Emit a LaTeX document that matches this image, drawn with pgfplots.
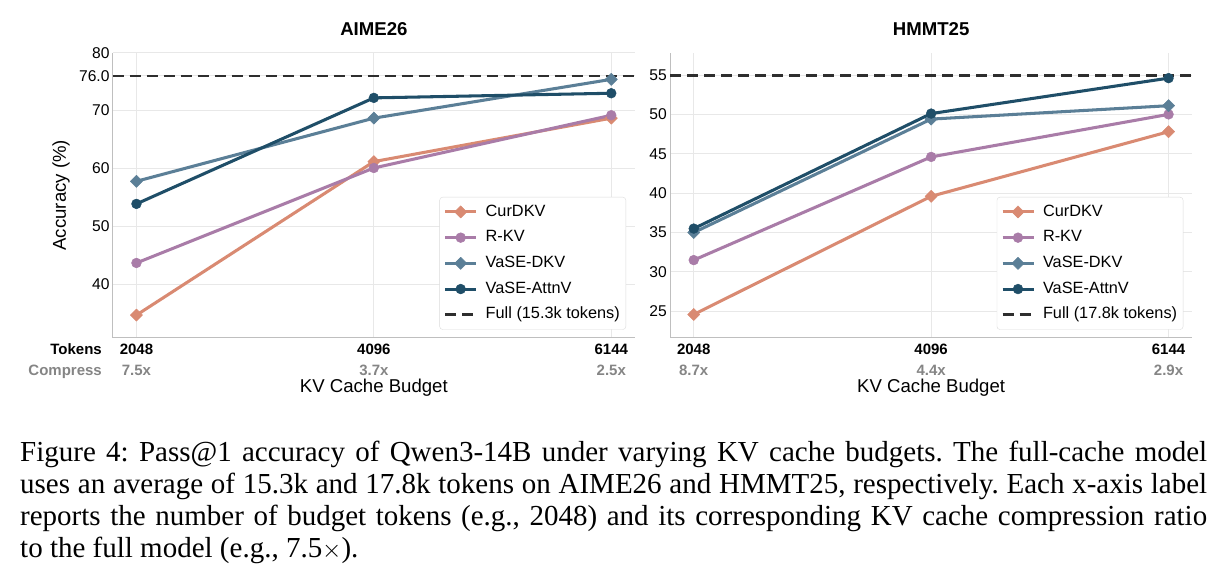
\documentclass[border=0pt]{standalone}
\usepackage{pgfplots}
\pgfplotsset{compat=1.18}
\usepackage{fontspec}
\setmainfont{Liberation Sans}
\newfontfamily\capfont{Liberation Serif}
\definecolor{curc}{HTML}{D98A72}
\definecolor{rkvc}{HTML}{A97CA8}
\definecolor{dkvc}{HTML}{5B7F97}
\definecolor{attnc}{HTML}{1F4E68}
\definecolor{fullc}{HTML}{2E2E2E}
\definecolor{lblgray}{HTML}{858585}
\pgfplotsset{
  common/.style={
    scale only axis, width=522.3pt, height=285pt,
    xmin=1843.2, xmax=6348.8,
    xtick={2048,4096,6144},
    axis x line*=bottom, axis y line*=left,
    axis line style={-, draw=black!25, line width=1pt},
    major tick length=0pt,
    grid=major, major grid style={draw=black!9, line width=0.9pt},
    /pgf/number format/assume math mode=true,
    yticklabel style={font=\fontsize{15.6}{16}\selectfont, inner sep=0pt, xshift=-3pt},
    xticklabel style={align=center, font=\fontsize{15}{21}\selectfont\bfseries, inner sep=0pt, yshift=-6pt},
    title style={at={([yshift=17.7pt]axis description cs:0.5,1)}, anchor=center, font=\fontsize{18.6}{20}\selectfont\bfseries},
    xlabel style={at={([yshift=-50.3pt]axis description cs:0.5,0)}, anchor=center, font=\fontsize{18.6}{20}\selectfont},
    ylabel style={at={([xshift=-51.7pt]axis description cs:0,0.5)}, anchor=center, font=\fontsize{18.6}{20}\selectfont},
    legend cell align=left,
    legend style={at={(1,0)}, anchor=south east, xshift=-9pt, yshift=8pt,
      draw=black!14, rounded corners=3pt, fill=white,
      font=\fontsize{16.3}{18}\selectfont,
      inner xsep=4pt, inner ysep=5pt, row sep=6.2pt, column sep=6pt,
      nodes={text height=12pt, text depth=3.5pt, inner sep=2pt}},
    legend image code/.code={\draw[mark repeat=2,mark phase=2] plot coordinates {(0pt,0pt) (15.5pt,0pt) (31pt,0pt)};},
  },
  curs/.style={color=curc, line width=3.05pt, line join=round, mark=square*, mark size=4.3pt, mark options={rotate=45, solid, line width=0.5pt}},
  rkvs/.style={color=rkvc, line width=3.05pt, line join=round, mark=*, mark size=4.9pt, mark options={solid, line width=0.5pt}},
  dkvs/.style={color=dkvc, line width=3.05pt, line join=round, mark=square*, mark size=4.3pt, mark options={rotate=45, solid, line width=0.5pt}},
  attns/.style={color=attnc, line width=3.05pt, line join=round, mark=*, mark size=4.9pt, mark options={solid, line width=0.5pt}},
  fulls/.style={color=fullc, line width=2.7pt, dash pattern=on 11pt off 6pt, no markers},
}
\begin{document}
\begin{tikzpicture}[x=1pt,y=1pt]
\useasboundingbox (0pt,0pt) rectangle (1219pt,-585pt);
\begin{axis}[common, at={(112.7pt,-337.7pt)}, anchor=south west,
  ymin=30.8, ymax=80,
  ytick={40,50,60,70,76,80}, yticklabels={40,50,60,70,76.0,80},
  xticklabels={{2048\\\textcolor{lblgray}{7.5x}},{4096\\\textcolor{lblgray}{3.7x}},{6144\\\textcolor{lblgray}{2.5x}}},
  title={AIME26}, xlabel={KV Cache Budget}, ylabel={Accuracy (\%)}]
\addplot[fulls, forget plot] coordinates {(1843.2,76.0) (6348.8,76.0)};
\addplot[curs] coordinates {(2048,34.7) (4096,61.2) (6144,68.7)};
\addlegendentry{CurDKV}
\addplot[rkvs] coordinates {(2048,43.7) (4096,60.1) (6144,69.2)};
\addlegendentry{R-KV}
\addplot[dkvs] coordinates {(2048,57.8) (4096,68.7) (6144,75.4)};
\addlegendentry{VaSE-DKV}
\addplot[attns] coordinates {(2048,53.9) (4096,72.2) (6144,73.0)};
\addlegendentry{VaSE-AttnV}
\addlegendimage{fulls}
\addlegendentry{Full (15.3k tokens)}
\end{axis}
\begin{axis}[common, at={(670pt,-337.7pt)}, anchor=south west,
  ymin=21.65, ymax=57.83,
  ytick={25,30,35,40,45,50,55}, yticklabels={25,30,35,40,45,50,55},
  xticklabels={{2048\\\textcolor{lblgray}{8.7x}},{4096\\\textcolor{lblgray}{4.4x}},{6144\\\textcolor{lblgray}{2.9x}}},
  title={HMMT25}, xlabel={KV Cache Budget}]
\addplot[fulls, forget plot] coordinates {(1843.2,54.9) (6348.8,54.9)};
\addplot[curs] coordinates {(2048,24.6) (4096,39.6) (6144,47.8)};
\addlegendentry{CurDKV}
\addplot[rkvs] coordinates {(2048,31.5) (4096,44.6) (6144,50.0)};
\addlegendentry{R-KV}
\addplot[dkvs] coordinates {(2048,35.0) (4096,49.4) (6144,51.1)};
\addlegendentry{VaSE-DKV}
\addplot[attns] coordinates {(2048,35.5) (4096,50.1) (6144,54.6)};
\addlegendentry{VaSE-AttnV}
\addlegendimage{fulls}
\addlegendentry{Full (17.8k tokens)}
\end{axis}
\node[anchor=base east, inner sep=0pt, font=\fontsize{15}{16}\selectfont\bfseries] at (102pt,-354.5pt) {Tokens};
\node[anchor=base east, inner sep=0pt, font=\fontsize{15}{16}\selectfont\bfseries, text=lblgray] at (102pt,-375.5pt) {Compress};
\node[anchor=base west, inner sep=0pt] at (20pt,-461.7pt) {\parbox[t]{1187pt}{\capfont\fontsize{29}{32}\selectfont\frenchspacing\hyphenpenalty=10000\parindent=0pt
Figure 4: Pass@1 accuracy of Qwen3-14B under varying KV cache budgets. The full-cache model\linebreak
uses an average of 15.3k and 17.8k tokens on AIME26 and HMMT25, respectively. Each x-axis label\linebreak
reports the number of budget tokens (e.g., 2048) and its corresponding KV cache compression ratio\linebreak
to the full model (e.g., 7.5$\times$).}};
\end{tikzpicture}
\end{document}
